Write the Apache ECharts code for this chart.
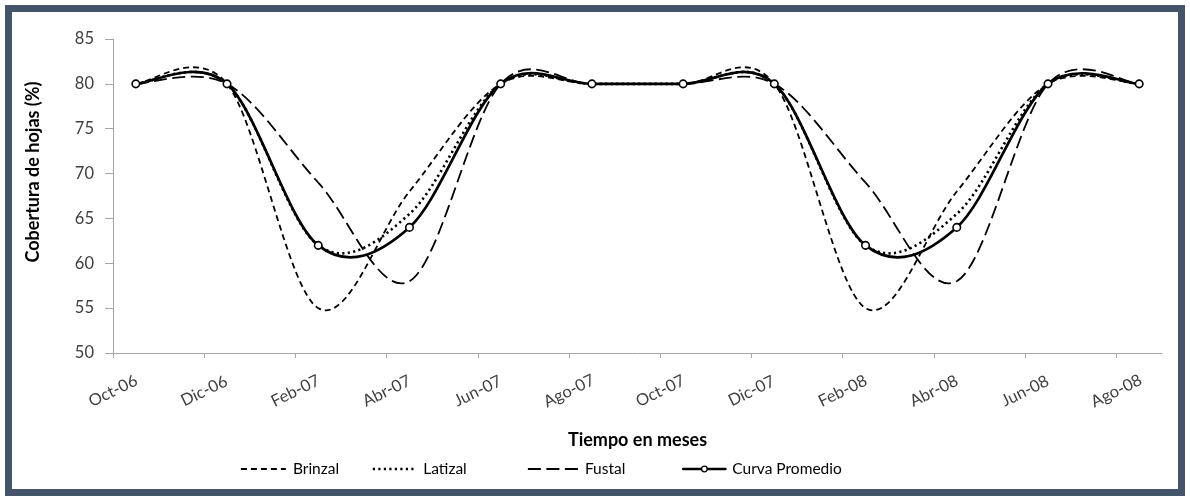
<!DOCTYPE html>
<html>
<head>
<meta charset="utf-8">
<script src="https://cdn.jsdelivr.net/npm/echarts@6/dist/echarts.min.js"></script>
<style>
html,body{margin:0;padding:0;background:#ffffff;}
#chart{width:1190px;height:500px;}
</style>
</head>
<body>
<div id="chart"></div>
<script>
// ---- data ----
const tickLabels = ['Oct-06','Dic-06','Feb-07','Abr-07','Jun-07','Ago-07','Oct-07','Dic-07','Feb-08','Abr-08','Jun-08','Ago-08'];
const sampleMonths = ['Oct-06','Dic-06','Feb-07','Abr-07','Jun-07','Ago-07','Oct-07','Dic-07','Feb-08','Abr-08','Jun-08','Ago-08'];
const brinzal  = [80, 80, 55, 68, 80, 80, 80, 80, 55, 68, 80, 80];
const latizal  = [80, 80, 62, 65.5, 80, 80, 80, 80, 62, 65.5, 80, 80];
const fustal   = [80, 80, 69, 58, 80, 80, 80, 80, 69, 58, 80, 80];
const promedio = [80, 80, 62, 64, 80, 80, 80, 80, 62, 64, 80, 80];
const seriesNames = ['Brinzal','Latizal','Fustal','Curva Promedio'];

const FONT = 'Lato';
// month index of each observation (mid-month on a monthly date axis)
const monthIndex = m => tickLabels.indexOf(m) * 2 + 0.5;
const toPoints = vals => vals.map((v, i) => [monthIndex(sampleMonths[i]), v]);

const styles = {
  'Brinzal':        {dash: [6, 4],   width: 1.8, cap: 'butt'},
  'Latizal':        {dash: [2.2, 3.3], width: 2.6, cap: 'butt'},
  'Fustal':         {dash: [13, 5.5], width: 1.8, cap: 'butt'},
  'Curva Promedio': {dash: null,     width: 2.7, cap: 'round'}
};
const valuesByName = {
  'Brinzal': brinzal, 'Latizal': latizal, 'Fustal': fustal, 'Curva Promedio': promedio
};

function bezLen(a, c1, c2, b) {
  let len = 0, px = a[0], py = a[1];
  for (let k = 1; k <= 24; k++) {
    const t = k / 24, u = 1 - t;
    const x = u*u*u*a[0] + 3*u*u*t*c1[0] + 3*u*t*t*c2[0] + t*t*t*b[0];
    const y = u*u*u*a[1] + 3*u*u*t*c1[1] + 3*u*t*t*c2[1] + t*t*t*b[1];
    len += Math.hypot(x - px, y - py); px = x; py = y;
  }
  return len;
}

function curveSeries(name) {
  const pts = toPoints(valuesByName[name]);
  const st = styles[name];
  return {
    type: 'custom', name: name, data: pts, silent: true, z: 3, clip: false,
    encode: {x: 0, y: 1},
    renderItem: function (params, api) {
      if (params.dataIndex !== 0) return null;
      const P = pts.map(p => api.coord(p));
      const n = P.length, children = [];
      let offset = 0;
      for (let i = 0; i < n - 1; i++) {
        const p0 = P[Math.max(i - 1, 0)], p1 = P[i], p2 = P[i + 1], p3 = P[Math.min(i + 2, n - 1)];
        const c1 = [p1[0] + (p2[0] - p0[0]) / 6, p1[1] + (p2[1] - p0[1]) / 6];
        const c2 = [p2[0] - (p3[0] - p1[0]) / 6, p2[1] - (p3[1] - p1[1]) / 6];
        children.push({
          type: 'bezierCurve',
          shape: {x1: p1[0], y1: p1[1], x2: p2[0], y2: p2[1], cpx1: c1[0], cpy1: c1[1], cpx2: c2[0], cpy2: c2[1]},
          style: {fill: 'none', stroke: '#000000', lineWidth: st.width, lineDash: st.dash, lineDashOffset: offset, lineCap: st.cap}
        });
        offset += bezLen(p1, c1, c2, p2);
      }
      return {type: 'group', children: children};
    }
  };
}

function legendSeries(name) {
  const st = styles[name];
  const isAvg = name === 'Curva Promedio';
  return {
    type: 'line', name: name, data: toPoints(valuesByName[name]), z: 5, silent: true,
    symbol: isAvg ? 'circle' : 'none', symbolSize: 7.5, showSymbol: isAvg,
    itemStyle: {color: '#ffffff', borderColor: '#000000', borderWidth: 1.6},
    lineStyle: {color: '#000000', width: st.width, type: st.dash || 'solid', opacity: 0},
    emphasis: {disabled: true}
  };
}

function legendFor(name, left, w) {
  const st = styles[name];
  const isAvg = name === 'Curva Promedio';
  return {
    data: [{
      name: name,
      lineStyle: {opacity: 1, color: '#000000', width: st.width, type: st.dash || 'solid', cap: st.cap},
      itemStyle: isAvg ? {opacity: 1, color: '#ffffff', borderColor: '#000000', borderWidth: 1.3} : {opacity: 0}
    }],
    left: left, top: 456, itemWidth: w, itemHeight: 7, selectedMode: false,
    textStyle: {fontFamily: FONT, fontSize: 15.5, color: '#000000', padding: [0, 0, 0, 2]}
  };
}

const chart = echarts.init(document.getElementById('chart'), null, {renderer: 'canvas'});
chart.setOption({
  animation: false,
  backgroundColor: '#ffffff',
  grid: {left: 113, right: 28, top: 39, bottom: 147},
  graphic: [{
    type: 'rect', silent: true, z: 100,
    shape: {x: 8.5, y: 8.5, width: 1173, height: 484},
    style: {fill: 'none', stroke: '#44546A', lineWidth: 7}
  }],
  xAxis: {
    type: 'value', min: 0, max: 23, interval: 2,
    name: 'Tiempo en meses', nameLocation: 'middle', nameGap: 78,
    nameTextStyle: {fontFamily: FONT, fontSize: 18, fontWeight: 'bold', color: '#000000'},
    axisLine: {show: true, lineStyle: {color: '#A6A6A6', width: 1}},
    axisTick: {show: true, length: 5, lineStyle: {color: '#A6A6A6'}, customValues: tickLabels.map((t, i) => i * 2)},
    axisLabel: {
      customValues: tickLabels.map((t, i) => i * 2),
      rotate: 26, align: 'center', verticalAlign: 'middle', margin: 38,
      fontFamily: FONT, fontSize: 16.5, color: '#404040',
      formatter: v => tickLabels[Math.round(v / 2)] || ''
    },
    splitLine: {show: false}
  },
  yAxis: {
    type: 'value', min: 50, max: 85, interval: 5,
    name: 'Cobertura de hojas (%)', nameLocation: 'middle', nameGap: 71, nameRotate: 90,
    nameTextStyle: {fontFamily: FONT, fontSize: 18, fontWeight: 'bold', color: '#000000', padding: [0, 0, 0, 48]},
    axisLine: {show: true, lineStyle: {color: '#A6A6A6', width: 1}},
    axisTick: {show: true, length: 8, lineStyle: {color: '#A6A6A6'}},
    axisLabel: {margin: 19, fontFamily: FONT, fontSize: 16.5, color: '#404040'},
    splitLine: {show: false}
  },
  legend: [
    legendFor('Brinzal', 232, 48),
    legendFor('Latizal', 364, 46),
    legendFor('Fustal', 520, 52),
    legendFor('Curva Promedio', 677, 42)
  ],
  series: seriesNames.map(legendSeries).concat(seriesNames.map(curveSeries))
});
</script>
</body>
</html>
